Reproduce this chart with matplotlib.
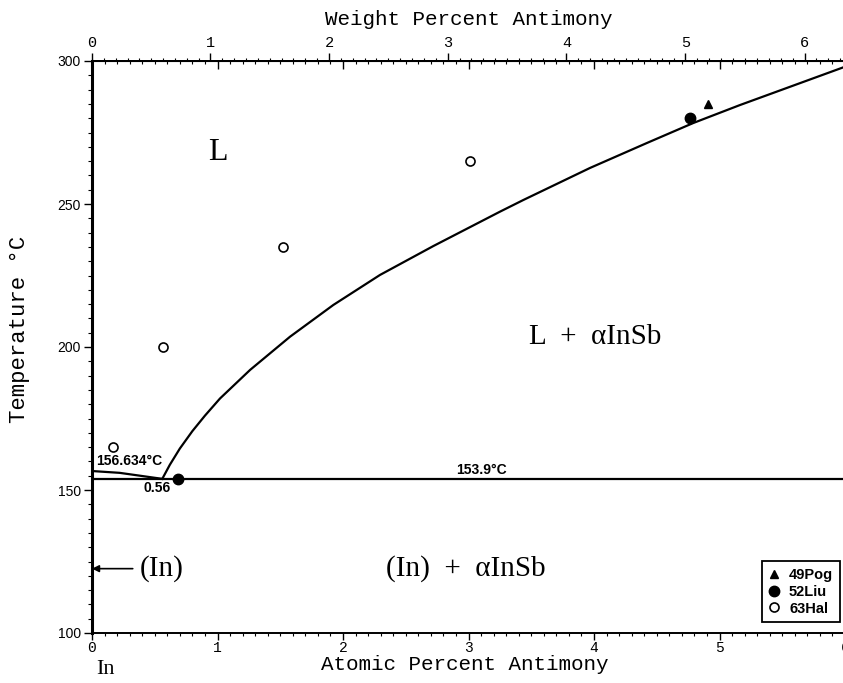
import numpy as np
import matplotlib

matplotlib.use("Agg")
import matplotlib.pyplot as plt
from matplotlib.ticker import MultipleLocator

# --- data (atomic percent Sb, temperature in C) -----------------------
liq_x = [0.56, 0.62, 0.70, 0.80, 0.90, 1.02, 1.26, 1.578, 1.923, 2.295,
         2.72, 3.25, 3.437, 3.968, 4.42, 4.79, 5.163, 6.0]
liq_T = [153.9, 158.8, 164.5, 170.6, 176.0, 182.0, 192.0, 203.6, 214.7, 225.2,
         235.3, 247.3, 251.4, 262.6, 271.3, 278.3, 284.6, 298.0]
in_liq_x = [0.0, 0.22, 0.56]
in_liq_T = [156.634, 156.0, 153.9]
eut_x = [0.01, 6.0]
eut_T = [153.9, 153.9]

pog_x = [4.906]
pog_T = [285]
liu_x = [0.683, 4.765]
liu_T = [154, 280]
hal_x = [0.165, 0.563, 1.52, 3.01]
hal_T = [165, 200, 235, 265]

wt_ticks = [0, 1, 2, 3, 4, 5, 6]
M_IN, M_SB = 114.82, 121.76


def at2wt(x):
    x = np.asarray(x, dtype=float)
    a = x * M_SB
    b = (100 - x) * M_IN
    return 100 * a / (a + b)


def wt2at(w):
    w = np.asarray(w, dtype=float)
    a = w / M_SB
    b = (100 - w) / M_IN
    return 100 * a / (a + b)


serif = "Liberation Serif"
mono = "Liberation Mono"

fig = plt.figure(figsize=(8.43, 6.83), dpi=100)
ax = fig.add_axes([92 / 843, 50 / 683, 753 / 843, 572 / 683])
ax.set_xlim(0, 6)
ax.set_ylim(100, 300)

lw = 1.6
ax.plot(liq_x, liq_T, color="black", lw=lw)
ax.plot(in_liq_x, in_liq_T, color="black", lw=lw)
ax.plot(eut_x, eut_T, color="black", lw=lw)

ax.plot(pog_x, pog_T, "^", color="black", ms=6, label="49Pog", clip_on=False)
ax.plot(liu_x, liu_T, "o", color="black", ms=7.5, label="52Liu", clip_on=False)
ax.plot(hal_x, hal_T, "o", mfc="white", mec="black", mew=1.2, ms=6.5,
        label="63Hal", clip_on=False)

# --- axes styling ----------------------------------------------------
ax.spines["right"].set_visible(False)
ax.spines["left"].set_linewidth(2.2)
ax.spines["bottom"].set_linewidth(1.4)
ax.spines["top"].set_linewidth(1.4)

ax.xaxis.set_major_locator(MultipleLocator(1))
ax.xaxis.set_minor_locator(MultipleLocator(0.1))
ax.yaxis.set_major_locator(MultipleLocator(50))
ax.yaxis.set_minor_locator(MultipleLocator(5))
ax.tick_params(axis="x", which="major", direction="out", length=5, width=1,
               labelsize=10.5, pad=1)
ax.tick_params(axis="x", which="minor", direction="out", length=2.5, width=0.8)
ax.tick_params(axis="y", which="major", direction="out", length=6, width=1,
               labelsize=10, pad=2)
ax.tick_params(axis="y", which="minor", direction="out", length=3, width=0.8)
for lab in ax.get_xticklabels():
    lab.set_fontfamily(mono)
for lab in ax.get_yticklabels():
    lab.set_fontfamily("Liberation Sans")

# atomic-percent ticks mirrored inward on top
top_in = ax.secondary_xaxis("top")
top_in.xaxis.set_major_locator(MultipleLocator(1))
top_in.xaxis.set_minor_locator(MultipleLocator(0.1))
top_in.tick_params(which="major", direction="in", length=6, width=1, labeltop=False)
top_in.tick_params(which="minor", direction="in", length=2.5, width=0.8)
top_in.spines["top"].set_linewidth(1.4)

# weight-percent scale on top
top_wt = ax.secondary_xaxis("top", functions=(at2wt, wt2at))
top_wt.set_xticks(wt_ticks)
top_wt.xaxis.set_minor_locator(MultipleLocator(0.1))
top_wt.tick_params(which="major", direction="out", length=6, width=1,
                   labelsize=11, pad=2)
top_wt.tick_params(which="minor", direction="out", length=2.5, width=0.8)
for lab in top_wt.get_xticklabels():
    lab.set_fontfamily(mono)
top_wt.set_xlabel("Weight Percent Antimony", fontsize=15, family=mono, labelpad=8)

ax.set_xlabel("Atomic Percent Antimony", fontsize=15, family=mono)
ax.xaxis.set_label_coords(0.495, -0.038)
ax.set_ylabel("Temperature °C", fontsize=16, family=mono)
ax.yaxis.set_label_coords(-0.082, 0.53)

# --- phase labels and annotations -------------------------------------
ax.text(1.0, 268, "L", fontsize=23, family=serif, ha="center", va="center")
ax.text(4.01, 203.5, "L  +  αInSb", fontsize=21, family=serif,
        ha="center", va="center")
ax.text(2.98, 122.5, "(In)  +  αInSb", fontsize=21, family=serif,
        ha="center", va="center")
ax.annotate("(In)", xy=(0.0, 122.5), xytext=(0.38, 122.5), fontsize=21,
            family=serif, ha="left", va="center",
            arrowprops=dict(arrowstyle="-|>", color="black", lw=1.2,
                            mutation_scale=10, shrinkA=3, shrinkB=0))
ax.text(0.11, 87.3, "In", fontsize=16, family=serif, ha="center", va="center",
        clip_on=False)

bold = dict(fontsize=10, fontweight="bold", family="Liberation Sans",
            ha="center", va="center")
ax.text(0.30, 160.2, "156.634°C", **bold)
ax.text(0.52, 150.7, "0.56", **bold)
ax.text(3.10, 157.0, "153.9°C", **bold)

leg = ax.legend(loc="lower right", bbox_to_anchor=(0.993, 0.019), frameon=True,
                fancybox=False, edgecolor="black", framealpha=1,
                handlelength=0.8, handletextpad=0.6, borderpad=0.45,
                labelspacing=0.2, borderaxespad=0,
                prop=dict(family="Liberation Sans", weight="bold", size=10.5))
leg.get_frame().set_linewidth(1.3)

fig.savefig("out.png", dpi=100)
